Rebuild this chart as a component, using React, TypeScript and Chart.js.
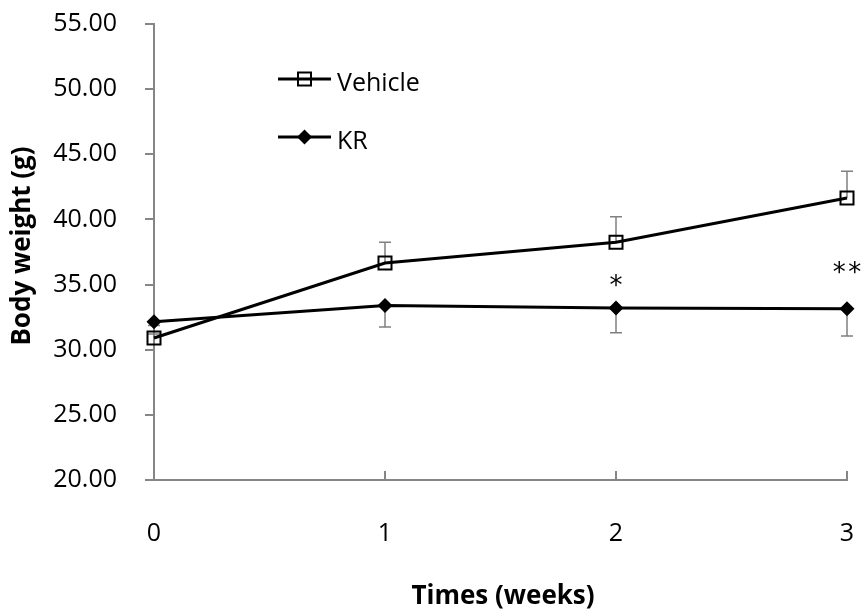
import React, { useEffect, useRef } from "react";
import { Chart, registerables } from "chart.js";

Chart.register(...registerables);

const weeks = [0, 1, 2, 3];
const xTickLabels = ["0", "1", "2", "3"];
const yTicks = [20, 25, 30, 35, 40, 45, 50, 55];
const vehicle = [30.9, 36.65, 38.25, 41.65];
const vehicleErr = [0.3, 1.6, 1.95, 2.05];
const kr = [32.15, 33.4, 33.2, 33.15];
const krErr = [0.3, 1.65, 1.9, 2.1];
const sigLabels = ["", "", "*", "**"];
const sigLevels = [0, 0, 35.4, 36.4];
const seriesNames = ["Vehicle", "KR"];
const yTitle = "Body weight (g)";
const xTitle = "Times (weeks)";

const FONT = "'Open Sans', 'Noto Sans', sans-serif";
const AXIS = "#868686";

function drawSquare(ctx: CanvasRenderingContext2D, x: number, y: number) {
  ctx.save();
  ctx.strokeStyle = "#000";
  ctx.lineWidth = 2;
  ctx.strokeRect(x - 6.5, y - 6.5, 13, 13);
  ctx.restore();
}
function drawDiamond(ctx: CanvasRenderingContext2D, x: number, y: number) {
  ctx.save();
  ctx.fillStyle = "#000";
  ctx.beginPath();
  ctx.moveTo(x, y - 7.5);
  ctx.lineTo(x + 7.5, y);
  ctx.lineTo(x, y + 7.5);
  ctx.lineTo(x - 7.5, y);
  ctx.closePath();
  ctx.fill();
  ctx.restore();
}

const extrasPlugin = {
  id: "extras",
  beforeDatasetsDraw(chart: any) {
    const { ctx, scales, chartArea } = chart;
    const xs = scales.x, ys = scales.y;
    ctx.save();
    ctx.strokeStyle = "#808080";
    ctx.lineWidth = 1.5;
    const bar = (i: number, v: number, e: number) => {
      const px = xs.getPixelForValue(weeks[i]);
      const p0 = ys.getPixelForValue(v);
      const p1 = ys.getPixelForValue(v + e);
      ctx.beginPath();
      ctx.moveTo(px, p0);
      ctx.lineTo(px, p1);
      ctx.moveTo(px - 6, p1);
      ctx.lineTo(px + 6, p1);
      ctx.stroke();
    };
    weeks.forEach((_, i) => {
      bar(i, vehicle[i], vehicleErr[i]);
      bar(i, kr[i], -krErr[i]);
    });
    // axis tick marks
    ctx.strokeStyle = AXIS;
    ctx.lineWidth = 2;
    weeks.forEach((w) => {
      const px = xs.getPixelForValue(w);
      ctx.beginPath();
      ctx.moveTo(px, chartArea.bottom);
      ctx.lineTo(px, chartArea.bottom - 9);
      ctx.stroke();
    });
    yTicks.forEach((t) => {
      const py = Math.round(ys.getPixelForValue(t));
      ctx.beginPath();
      ctx.moveTo(chartArea.left, py);
      ctx.lineTo(chartArea.left - 9, py);
      ctx.stroke();
    });
    ctx.restore();
  },
  afterDraw(chart: any) {
    const { ctx, scales } = chart;
    const xs = scales.x, ys = scales.y;
    ctx.save();
    // significance marks
    ctx.fillStyle = "#000";
    ctx.font = "26px 'DejaVu Sans', sans-serif";
    ctx.textAlign = "center";
    ctx.textBaseline = "middle";
    sigLabels.forEach((s, i) => {
      if (!s) return;
      const px = xs.getPixelForValue(weeks[i]);
      const py = ys.getPixelForValue(sigLevels[i]);
      ctx.fillText(s.split("").join("\u200A"), px, py + 8);
    });
    // legend
    const lx0 = 278, lx1 = 331;
    const rows = [79, 137];
    ctx.strokeStyle = "#000";
    ctx.lineWidth = 3;
    rows.forEach((ry) => {
      ctx.beginPath();
      ctx.moveTo(lx0, ry);
      ctx.lineTo(lx1, ry);
      ctx.stroke();
    });
    drawSquare(ctx, (lx0 + lx1) / 2, rows[0]);
    drawDiamond(ctx, (lx0 + lx1) / 2, rows[1]);
    ctx.font = "25px " + FONT;
    ctx.textAlign = "left";
    ctx.textBaseline = "middle";
    ctx.fillStyle = "#000";
    ctx.fillText(seriesNames[0], 337, rows[0] + 5);
    ctx.fillText(seriesNames[1], 337, rows[1] + 5);
    // axis titles
    ctx.font = "bold 26px " + FONT;
    ctx.textAlign = "center";
    ctx.fillText(xTitle, 503, 597);
    ctx.translate(23, 246);
    ctx.rotate(-Math.PI / 2);
    ctx.fillText(yTitle, 0, 0);
    ctx.restore();
  },
};

export default function App() {
  const ref = useRef<HTMLCanvasElement>(null);
  useEffect(() => {
    if (!ref.current) return;
    const chart = new Chart(ref.current, {
      type: "line",
      data: {
        datasets: [
          {
            label: seriesNames[0],
            data: weeks.map((w, i) => ({ x: w, y: vehicle[i] })),
            borderColor: "#000",
            borderWidth: 3,
            tension: 0,
            pointStyle: "rect",
            pointRadius: 9.2,
            pointBorderWidth: 2,
            pointBorderColor: "#000",
            pointBackgroundColor: "rgba(0,0,0,0)",
            clip: false,
          } as any,
          {
            label: seriesNames[1],
            data: weeks.map((w, i) => ({ x: w, y: kr[i] })),
            borderColor: "#000",
            borderWidth: 3,
            tension: 0,
            pointStyle: "rectRot",
            pointRadius: 7.5,
            pointBorderWidth: 0,
            pointBackgroundColor: "#000",
            clip: false,
          } as any,
        ],
      },
      options: {
        animation: false,
        responsive: false,
        layout: { padding: { top: 24, right: 20, left: 0, bottom: 0 } },
        plugins: { legend: { display: false }, tooltip: { enabled: false } },
        scales: {
          x: {
            type: "linear",
            min: 0,
            max: 3,
            afterFit: (s: any) => { s.height = 132; },
            afterBuildTicks: (s: any) => { s.ticks = weeks.map((w) => ({ value: w })); },
            ticks: {
              padding: 0,
              color: "#000",
              font: { family: FONT, size: 25 },
              maxRotation: 0,
              callback: (v: any) => xTickLabels[weeks.indexOf(Number(v))] ?? "",
            },
            grid: {
              display: true,
              drawOnChartArea: false,
              drawTicks: true,
              tickLength: 39,
              color: "rgba(0,0,0,0)",
            },
            border: { display: true, color: AXIS, width: 2 },
            title: { display: false },
          },
          y: {
            type: "linear",
            min: 20,
            max: 55,
            afterFit: (s: any) => { s.width = 154; },
            afterBuildTicks: (s: any) => { s.ticks = yTicks.map((t) => ({ value: t })); },
            ticks: {
              padding: 0,
              color: "#000",
              font: { family: FONT, size: 25 },
              callback: (v: any) => Number(v).toFixed(2),
            },
            grid: {
              display: true,
              drawOnChartArea: false,
              drawTicks: true,
              tickLength: 37,
              color: "rgba(0,0,0,0)",
            },
            border: { display: true, color: AXIS, width: 2 },
            title: { display: false },
          },
        },
      } as any,
      plugins: [extrasPlugin],
    });
    return () => chart.destroy();
  }, []);
  return (
    <div style={{ position: "fixed", left: 0, top: 0, width: 867, height: 612, background: "#fff" }}>
      <canvas ref={ref} width={867} height={612} style={{ width: 867, height: 612, display: "block" }} />
    </div>
  );
}
